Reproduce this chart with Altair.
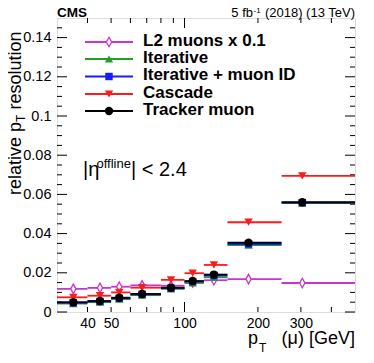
import altair as alt
import pandas as pd

# ---- data ----
bin_lo = [30, 40, 50, 60, 80, 100, 120, 150, 250]
bin_hi = [40, 50, 60, 80, 100, 120, 150, 250, 500]
bin_mean = [35, 45, 54, 67, 88, 108, 132, 183, 304]

l2_x01 = [0.0118, 0.0123, 0.0129, 0.0136, 0.0134, 0.0151, 0.0162, 0.0168, 0.0148]
iterative = [0.0043, 0.0050, 0.0066, 0.0086, 0.0118, 0.0148, 0.0177, 0.0341, 0.0555]
iter_muid = [0.0047, 0.0054, 0.0070, 0.0090, 0.0122, 0.0155, 0.0186, 0.0347, 0.0558]
cascade = [0.0075, 0.0083, 0.0100, 0.0124, 0.0164, 0.0198, 0.0240, 0.0458, 0.0695]
tracker = [0.0050, 0.0056, 0.0073, 0.0092, 0.0124, 0.0158, 0.0191, 0.0354, 0.0560]

series_names = ["L2 muons x 0.1", "Iterative", "Iterative + muon ID", "Cascade", "Tracker muon"]
series_values = [l2_x01, iterative, iter_muid, cascade, tracker]
series_colors = ["#cc33cc", "#22a022", "#1a1aff", "#ff1a1a", "#000000"]
DIAMOND = "M0,-1L0.55,0L0,1L-0.55,0Z"
series_shapes = [DIAMOND, "triangle-up", "square", "triangle-down", "circle"]

x_labels = [40, 50, 100, 200, 300]
x_minor_ticks = [40, 50, 60, 70, 80, 90, 200, 300, 400]
x_major_ticks = [100]
y_labels = [0, 0.02, 0.04, 0.06, 0.08, 0.10, 0.12, 0.14]
y_minor_ticks = [round(k * 0.005, 4) for k in range(1, 30) if k % 4 != 0]

W, H = 298, 294
FONT = "Liberation Sans"

xscale = alt.Scale(type="log", domain=[30, 500], nice=False, zero=False)
yscale = alt.Scale(domain=[0, 0.15], nice=False, zero=True)
xaxis = alt.Axis(values=x_labels, format="d", ticks=False, domain=False, grid=False,
                 labelFontSize=14, labelFont=FONT, labelPadding=4, labelColor="black",
                 title=None, labelFlush=False, labelOverlap=False)
yaxis = alt.Axis(values=y_labels, ticks=False, domain=False, grid=False,
                 labelExpr="datum.value == 0 ? '0' : format(datum.value, '.2~f')",
                 labelFontSize=14.5, labelFont=FONT, labelPadding=6, labelColor="black",
                 title=None, labelFlush=False, labelOverlap=False)


def X(field):
    return alt.X(field, type="quantitative", scale=xscale, axis=xaxis)


def Y(field):
    return alt.Y(field, type="quantitative", scale=yscale, axis=yaxis)


layers = []

# ---- ticks (ROOT style, inside the frame) ----
ymaj = pd.DataFrame({"v": y_labels})
ymin = pd.DataFrame({"v": y_minor_ticks})
xmaj = pd.DataFrame({"v": x_major_ticks})
xmin = pd.DataFrame({"v": x_minor_ticks})
tk = dict(color="black", strokeWidth=1)
layers += [
    alt.Chart(ymaj).mark_rule(**tk).encode(y=Y("v"), x=alt.value(0), x2=alt.value(10)),
    alt.Chart(ymaj).mark_rule(**tk).encode(y=Y("v"), x=alt.value(W - 10), x2=alt.value(W)),
    alt.Chart(ymin).mark_rule(**tk).encode(y=Y("v"), x=alt.value(0), x2=alt.value(5)),
    alt.Chart(ymin).mark_rule(**tk).encode(y=Y("v"), x=alt.value(W - 5), x2=alt.value(W)),
    alt.Chart(xmaj).mark_rule(**tk).encode(x=X("v"), y=alt.value(H), y2=alt.value(H - 10)),
    alt.Chart(xmaj).mark_rule(**tk).encode(x=X("v"), y=alt.value(0), y2=alt.value(10)),
    alt.Chart(xmin).mark_rule(**tk).encode(x=X("v"), y=alt.value(H), y2=alt.value(H - 5)),
    alt.Chart(xmin).mark_rule(**tk).encode(x=X("v"), y=alt.value(0), y2=alt.value(5)),
]

# ---- data series ----
frames = []
for name, vals in zip(series_names, series_values):
    frames.append(pd.DataFrame({"lo": bin_lo, "hi": bin_hi, "m": bin_mean, "val": vals}))

for df, col in zip(frames, series_colors):
    layers.append(alt.Chart(df).mark_rule(color=col, strokeWidth=1.8).encode(
        x=X("lo"), x2="hi", y=Y("val")))


def marker(data, col, shp):
    if shp == DIAMOND:
        return alt.Chart(data).mark_point(shape=shp, filled=True, fill="white", stroke=col,
                                          strokeWidth=1.3, size=90, opacity=1)
    size = 55 if shp == "square" else 70
    return alt.Chart(data).mark_point(shape=shp, filled=True, color=col, size=size, opacity=1)


for df, col, shp in zip(frames, series_colors, series_shapes):
    layers.append(marker(df, col, shp).encode(x=X("m"), y=Y("val")))

# ---- legend (drawn in-frame as in the reference) ----
legend_rows = [24, 41, 58.5, 76, 93]
one = pd.DataFrame({"k": [0]})
for name, col, shp, ry in zip(series_names, series_colors, series_shapes, legend_rows):
    layers.append(alt.Chart(one).mark_rule(color=col, strokeWidth=1.8).encode(
        x=alt.value(28), x2=alt.value(76), y=alt.value(ry)))
    layers.append(marker(one, col, shp).encode(x=alt.value(52), y=alt.value(ry)))
    layers.append(alt.Chart(pd.DataFrame({"t": [name]})).mark_text(
        font=FONT, fontSize=17, fontWeight="bold", align="left", baseline="alphabetic",
        color="black").encode(text="t:N", x=alt.value(86), y=alt.value(ry + 3.5)))


def txt(s, x, y, size, weight="normal", align="left", angle=0):
    return alt.Chart(pd.DataFrame({"t": [s]})).mark_text(
        font=FONT, fontSize=size, fontWeight=weight, align=align, baseline="alphabetic",
        color="black", angle=angle).encode(text="t:N", x=alt.value(x), y=alt.value(y))


# eta label
layers += [
    txt("|η", 26, 158, 20),
    txt("offline", 39.5, 150, 13),
    txt("| < 2.4", 74, 158, 20),
]

# header (kept inside the drawable area)
layers += [
    txt("CMS", 0, -1.5, 13.5, weight="bold"),
    txt("5 fb", 196, -1.5, 13, align="right"),
    txt("-1", 196.5, -5.5, 8),
    txt("(2018) (13 TeV)", W, -1.5, 13, align="right"),
]

# x title
layers += [
    txt("p", 201, 326, 18, align="right"),
    txt("T", 202, 334, 12),
    txt("(μ) [GeV]", W, 326, 18, align="right"),
]

# y title (rotated)
layers += [
    txt("relative p", -36, 177, 18, angle=270),
    txt("T", -32, 104, 12, angle=270),
    txt("resolution", -36, 91.5, 18, angle=270),
]

chart = alt.layer(*layers).properties(
    width=W, height=H,
    autosize=alt.AutoSizeParams(type="none"),
    padding={"left": 49, "top": 10, "right": 11, "bottom": 43},
).configure_view(stroke="black", strokeWidth=2).configure(background="white")

chart.save("out.html", embed_options={"renderer": "svg", "actions": False})
